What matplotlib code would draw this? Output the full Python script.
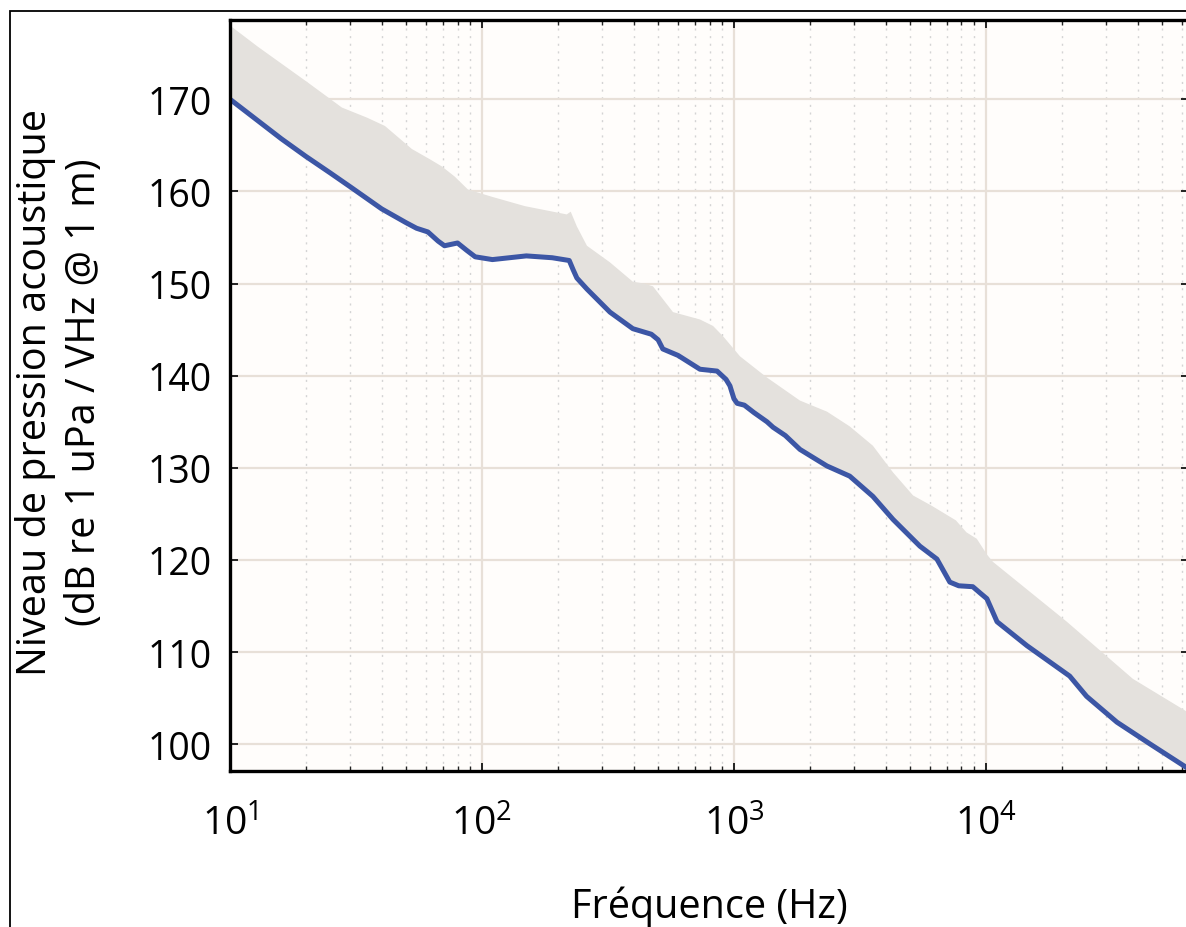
import numpy as np
import matplotlib
matplotlib.use("Agg")
import matplotlib.pyplot as plt
from matplotlib.patches import Rectangle
from matplotlib.ticker import LogLocator, FixedLocator, NullFormatter

# Median source level (lower edge of the band, drawn as the blue curve)
freq_level = [10, 13, 16, 20, 25, 30, 40, 50, 55, 61, 67, 71, 80, 87, 94,
              110, 150, 190, 222, 230, 238, 261, 322, 397, 470, 500, 522,
              600, 733, 857, 930, 964, 1000, 1030, 1100, 1200, 1352, 1430,
              1600, 1828, 2340, 2880, 3560, 4280, 5470, 6390, 7190, 7800,
              8870, 9500, 10090, 11070, 14550, 21500, 25100, 33100, 45000,
              64000]
level = [170.0, 167.6, 165.7, 163.8, 162.0, 160.5, 158.1, 156.6, 156.0,
         155.6, 154.6, 154.1, 154.4, 153.6, 152.9, 152.6, 153.0, 152.8,
         152.5, 151.5, 150.6, 149.4, 146.9, 145.1, 144.5, 143.9, 142.9,
         142.2, 140.7, 140.5, 139.6, 138.9, 137.5, 137.0, 136.8, 136.0,
         135.0, 134.4, 133.5, 132.0, 130.2, 129.1, 126.9, 124.4, 121.5,
         120.1, 117.6, 117.2, 117.1, 116.4, 115.8, 113.3, 110.7, 107.4,
         105.2, 102.4, 100.0, 97.3]

# Upper edge of the spread band
freq_upper = [10, 12.9, 20.4, 27.8, 35, 41.2, 52.7, 62, 69.4, 78, 88, 110,
              148, 217, 225, 238, 261, 322, 397, 440, 477, 573, 733, 826,
              904, 1057, 1352, 1828, 2340, 2880, 3560, 4280, 5140, 6080,
              7600, 8370, 9200, 10090, 10660, 20950, 38300, 64000]
upper = [178.0, 175.7, 171.8, 169.1, 168.0, 167.1, 164.6, 163.5, 162.7,
         161.6, 160.2, 159.4, 158.4, 157.5, 157.8, 156.2, 154.1, 152.3,
         150.2, 150.0, 149.7, 146.9, 146.1, 145.4, 144.3, 142.1, 139.8,
         137.3, 136.1, 134.5, 132.4, 129.5, 127.0, 125.9, 124.3, 123.0,
         122.3, 120.6, 119.8, 113.3, 107.1, 103.4]

y_ticks = [100, 110, 120, 130, 140, 150, 160, 170]

FONT = "Open Sans"
plt.rcParams["font.family"] = [FONT, "DejaVu Sans"]
plt.rcParams["mathtext.fontset"] = "custom"
plt.rcParams["mathtext.rm"] = FONT
plt.rcParams["mathtext.it"] = FONT
plt.rcParams["mathtext.bf"] = FONT

W, H = 1186, 928
fig = plt.figure(figsize=(W / 100, H / 100), dpi=100, facecolor="white")

# outer frame around the figure
fig.patches.append(Rectangle((10 / W, -0.05), 1.2, 1 - 12 / H + 0.05,
                             transform=fig.transFigure, fill=False,
                             edgecolor="black", linewidth=1.3, zorder=0))

left, right, bottom, top = 230, 1189, 772, 21
ax = fig.add_axes([left / W, 1 - bottom / H, (right - left) / W,
                   (bottom - top) / H])
ax.set_facecolor("#fffdfb")

ax.set_xscale("log")
ax.set_xlim(10, 10 ** 4.806)
ax.set_ylim(97.1, 178.6)

# grid: solid at decades / y ticks, dotted at minor decades
ax.xaxis.set_major_locator(LogLocator(base=10, numticks=10))
ax.xaxis.set_minor_locator(LogLocator(base=10, subs=np.arange(2, 10), numticks=20))
ax.xaxis.set_minor_formatter(NullFormatter())
ax.yaxis.set_major_locator(FixedLocator(y_ticks))
ax.grid(True, which="major", color="#e8e0d8", linewidth=1.6, linestyle="-")
ax.grid(True, which="minor", axis="x", color="#d4d4d4", linewidth=1.0,
        linestyle=(0, (1.5, 4)))
ax.set_axisbelow(True)

# spread band and median curve
band_x = np.concatenate([freq_upper, freq_level[::-1]])
band_y = np.concatenate([upper, level[::-1]])
ax.fill(band_x, band_y, color="#e4e1dd", linewidth=0, zorder=2)
ax.plot(freq_level, level, color="#3c56a5", linewidth=3.6, zorder=3,
        solid_joinstyle="round", solid_capstyle="round")

for s in ax.spines.values():
    s.set_linewidth(2.4)
    s.set_color("black")
    s.set_zorder(5)

ax.tick_params(which="both", direction="in", top=True, right=True,
               color="#222222")
ax.tick_params(which="major", length=6, width=1.4, labelsize=27, pad=13)
ax.tick_params(which="minor", length=3.5, width=1.0)
ax.tick_params(axis="x", which="major", pad=24, labelsize=28)

ax.set_xlabel("Fréquence (Hz)", fontsize=28.5, labelpad=30)
fig.text(60 / W, 1 - 392 / H,
         "Niveau de pression acoustique\n(dB re 1 uPa / VHz @ 1 m)",
         rotation=90, ha="center", va="center", multialignment="center",
         fontsize=28.5, linespacing=1.25)

fig.savefig("out.png", dpi=100)
